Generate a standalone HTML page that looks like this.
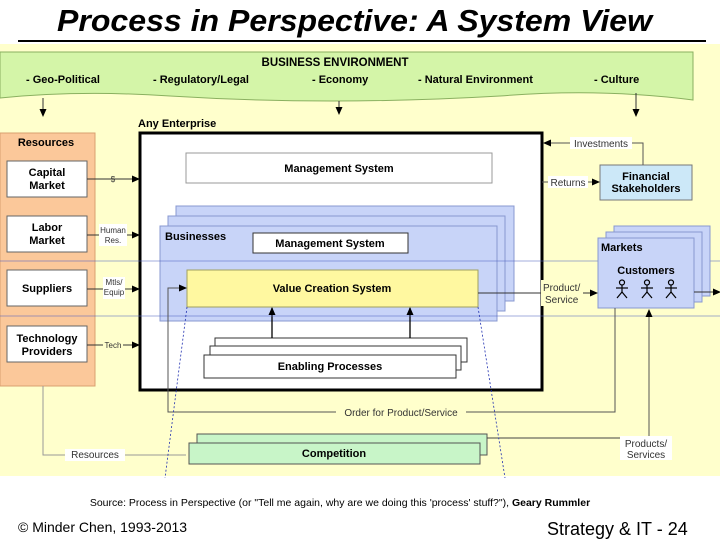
<!DOCTYPE html>
<html><head><meta charset="utf-8"><style>
body{margin:0;width:720px;height:540px;overflow:hidden;background:#fff}
svg{display:block}
text{font-family:"Liberation Sans",Arial,sans-serif}
</style></head><body>
<svg width="720" height="540" viewBox="0 0 720 540" xmlns="http://www.w3.org/2000/svg">
<defs>
<marker id="a" markerWidth="8" markerHeight="8" refX="7" refY="4" orient="auto" markerUnits="userSpaceOnUse"><path d="M0,0.5 L8,4 L0,7.5z" fill="#000"/></marker>
</defs>
<text x="57" y="31" font-size="31" font-weight="bold" font-style="italic" textLength="595" lengthAdjust="spacingAndGlyphs">Process in Perspective: A System View</text>
<rect x="18" y="40" width="688" height="2" fill="#000"/>
<rect x="0" y="44" width="720" height="432" fill="#ffffcc"/>
<!-- banner -->
<path d="M0,52 L693,52 L693,100 Q600,88 500,96 Q330,106 170,96 Q80,90 0,98 Z" fill="#d4f5a8" stroke="#8ab060"/>
<text x="335" y="66" font-size="11.5" font-weight="bold" text-anchor="middle">BUSINESS ENVIRONMENT</text>
<g font-size="11" font-weight="bold">
<text x="26" y="83">- Geo-Political</text><text x="153" y="83">- Regulatory/Legal</text><text x="312" y="83">- Economy</text><text x="418" y="83">-  Natural Environment</text><text x="594" y="83">- Culture</text></g>
<g stroke="#333" fill="none" marker-end="url(#a)">
<line x1="43" y1="98" x2="43" y2="116"/><line x1="339" y1="101" x2="339" y2="114"/><line x1="636" y1="93" x2="636" y2="116"/></g>
<!-- resources -->
<rect x="0" y="133" width="95" height="253" fill="#fbc89a" stroke="#d8a070"/>
<text x="46" y="146" font-size="11" font-weight="bold" text-anchor="middle">Resources</text>
<g fill="#fff" stroke="#666">
<rect x="7" y="161" width="80" height="36"/><rect x="7" y="216" width="80" height="36"/><rect x="7" y="270" width="80" height="36"/><rect x="7" y="326" width="80" height="36"/></g>
<g font-size="11" font-weight="bold" text-anchor="middle">
<text x="47" y="176">Capital</text><text x="47" y="189">Market</text>
<text x="47" y="231">Labor</text><text x="47" y="244">Market</text>
<text x="47" y="292">Suppliers</text>
<text x="47" y="342">Technology</text><text x="47" y="355">Providers</text></g>
<g stroke="#333" marker-end="url(#a)"><line x1="87" y1="179" x2="139" y2="179"/><line x1="87" y1="235" x2="139" y2="235"/><line x1="87" y1="289" x2="139" y2="289"/><line x1="87" y1="345" x2="139" y2="345"/></g>
<g font-size="8" text-anchor="middle" fill="#333">
<text x="113" y="182">$</text><rect x="99" y="224" width="28" height="22" fill="#fff"/><text x="113" y="233">Human</text><text x="113" y="243">Res.</text>
<rect x="103" y="277" width="22" height="22" fill="#fff"/><text x="114" y="285">Mtls/</text><text x="114" y="295">Equip</text>
<rect x="103" y="340" width="20" height="10" fill="#ffffcc"/><text x="113" y="348">Tech</text></g>
<!-- enterprise -->
<text x="138" y="127" font-size="11" font-weight="bold">Any Enterprise</text>
<rect x="140" y="133" width="402" height="257" fill="#fff" stroke="#000" stroke-width="3"/>
<rect x="186" y="153" width="306" height="30" fill="#fff" stroke="#999"/>
<text x="339" y="172" font-size="11" font-weight="bold" text-anchor="middle">Management System</text>
<g fill="#c8d4f8" stroke="#8898d0"><rect x="176" y="206" width="338" height="95"/><rect x="168" y="216" width="337" height="95"/><rect x="160" y="226" width="337" height="95"/></g>
<text x="165" y="240" font-size="11" font-weight="bold">Businesses</text>
<rect x="253" y="233" width="155" height="20" fill="#fff" stroke="#333"/>
<text x="330" y="247" font-size="11" font-weight="bold" text-anchor="middle">Management System</text>
<rect x="187" y="270" width="291" height="37" fill="#fff8a0" stroke="#a0a060"/>
<text x="332" y="292" font-size="11" font-weight="bold" text-anchor="middle">Value Creation System</text>
<g fill="#fff" stroke="#333"><rect x="215" y="338" width="252" height="24"/><rect x="210" y="346" width="251" height="24"/><rect x="204" y="355" width="252" height="23"/></g>
<text x="330" y="370" font-size="11" font-weight="bold" text-anchor="middle">Enabling Processes</text>
<g stroke="#000" stroke-width="1.3" marker-end="url(#a)"><line x1="272" y1="338" x2="272" y2="308"/><line x1="410" y1="338" x2="410" y2="308"/></g>
<!-- scan lines -->
<line x1="0" y1="261" x2="720" y2="261" stroke="#5060c0" stroke-width="0.8" opacity="0.7"/>
<line x1="0" y1="316" x2="720" y2="316" stroke="#5060c0" stroke-width="0.8" opacity="0.7"/>
<!-- financial -->
<rect x="600" y="165" width="92" height="35" fill="#cce8f8" stroke="#777"/>
<text x="646" y="180" font-size="11" font-weight="bold" text-anchor="middle">Financial</text>
<text x="646" y="192" font-size="11" font-weight="bold" text-anchor="middle">Stakeholders</text>
<path d="M643,165 L643,143 L544,143" stroke="#555" fill="none" marker-end="url(#a)"/>
<rect x="570" y="137" width="62" height="12" fill="#fff"/><text x="601" y="147" font-size="10" text-anchor="middle" fill="#333">Investments</text>
<line x1="542" y1="182" x2="599" y2="182" stroke="#555" marker-end="url(#a)"/>
<rect x="548" y="176" width="40" height="12" fill="#fff"/><text x="568" y="186" font-size="10" text-anchor="middle" fill="#333">Returns</text>
<!-- markets -->
<g fill="#c8d4f8" stroke="#8898d0"><rect x="614" y="226" width="96" height="70"/><rect x="606" y="232" width="96" height="70"/><rect x="598" y="238" width="96" height="70"/></g>
<text x="601" y="251" font-size="11" font-weight="bold">Markets</text>
<text x="646" y="274" font-size="11" font-weight="bold" text-anchor="middle">Customers</text>
<g stroke="#000" stroke-width="1.2" fill="none">
<g transform="translate(622,280)"><circle cx="0" cy="2.5" r="2.5"/><line x1="0" y1="5" x2="0" y2="12"/><line x1="-6" y1="8" x2="6" y2="8"/><line x1="0" y1="12" x2="-5" y2="18"/><line x1="0" y1="12" x2="5" y2="18"/></g>
<g transform="translate(647,280)"><circle cx="0" cy="2.5" r="2.5"/><line x1="0" y1="5" x2="0" y2="12"/><line x1="-6" y1="8" x2="6" y2="8"/><line x1="0" y1="12" x2="-5" y2="18"/><line x1="0" y1="12" x2="5" y2="18"/></g>
<g transform="translate(671,280)"><circle cx="0" cy="2.5" r="2.5"/><line x1="0" y1="5" x2="0" y2="12"/><line x1="-6" y1="8" x2="6" y2="8"/><line x1="0" y1="12" x2="-5" y2="18"/><line x1="0" y1="12" x2="5" y2="18"/></g></g>
<line x1="478" y1="293" x2="597" y2="293" stroke="#333" marker-end="url(#a)"/>
<rect x="541" y="280" width="42" height="26" fill="#ffffcc"/>
<text x="543" y="291" font-size="10" fill="#333">Product/</text><text x="545" y="303" font-size="10" fill="#333">Service</text>
<line x1="694" y1="292" x2="720" y2="292" stroke="#333" marker-end="url(#a)"/>
<!-- order loop -->
<path d="M615,308 L615,412 L168,412 L168,288 L186,288" stroke="#555" fill="none" marker-end="url(#a)"/>
<rect x="336" y="406" width="130" height="12" fill="#ffffcc"/>
<text x="401" y="416" font-size="10" text-anchor="middle" fill="#333">Order for Product/Service</text>
<!-- competition -->
<g fill="#c8f5c8" stroke="#555"><rect x="197" y="434" width="290" height="21"/><rect x="189" y="443" width="291" height="21"/></g>
<text x="334" y="457" font-size="11" font-weight="bold" text-anchor="middle">Competition</text>
<line x1="487" y1="438" x2="649" y2="438" stroke="#444"/>
<line x1="649" y1="436" x2="649" y2="310" stroke="#555" marker-end="url(#a)"/>
<rect x="620" y="436" width="52" height="24" fill="#fff"/>
<text x="646" y="447" font-size="10" text-anchor="middle" fill="#333">Products/</text><text x="646" y="458" font-size="10" text-anchor="middle" fill="#333">Services</text>
<path d="M43,386 L43,455 L186,455" stroke="#999" fill="none"/>
<rect x="65" y="449" width="60" height="12" fill="#fff"/>
<text x="95" y="458" font-size="10" text-anchor="middle" fill="#333">Resources</text>
<g stroke="#2030b0" stroke-width="0.8" stroke-dasharray="2,2"><line x1="187" y1="307" x2="165" y2="478"/><line x1="478" y1="307" x2="505" y2="478"/></g>
<!-- footer -->
<text x="340" y="506" font-size="10.5" text-anchor="middle">Source: Process in Perspective (or "Tell me again, why are we doing this 'process' stuff?"), <tspan font-weight="bold">Geary Rummler</tspan></text>
<text x="18" y="532" font-size="14">© Minder Chen, 1993-2013</text>
<text x="547" y="535" font-size="18">Strategy &amp; IT - 24</text>
</svg>
</body></html>
